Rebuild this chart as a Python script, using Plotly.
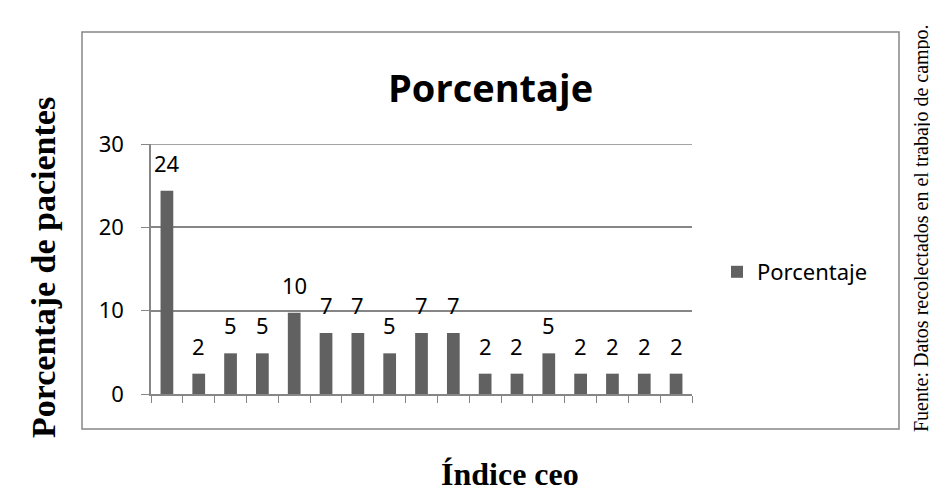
import plotly.graph_objects as go

# porcentaje de pacientes por valor del indice ceo (41 pacientes)
categorias = [str(i) for i in range(1, 18)]
porcentaje = [24.39, 2.44, 4.88, 4.88, 9.76, 7.32, 7.32, 4.88, 7.32, 7.32,
              2.44, 2.44, 4.88, 2.44, 2.44, 2.44, 2.44]
y_ticks = [0, 10, 20, 30]

OFF = 8                      # page body margin
W, H = 938 - OFF, 491 - OFF
L, R, T, B = 151, 692, 144, 394   # plot area, page px


def px(x):
    return (x - L) / (R - L)


def py(y):
    return (B - y) / (B - T)


gris = "#868686"
fig = go.Figure()
fig.add_trace(go.Bar(x=categorias, y=porcentaje, name="Porcentaje",
                     marker=dict(color="#616161", line=dict(width=0)),
                     width=0.4, showlegend=True))

# etiquetas de datos
for i, v in enumerate(porcentaje):
    fig.add_annotation(x=i, y=v, text=f"{v:.0f}", showarrow=False,
                       xanchor="center", yanchor="bottom", yshift=11,
                       font=dict(family="Noto Sans", size=22, color="#000"))

fig.update_layout(
    width=W, height=H,
    margin=dict(l=L - OFF, r=W - (R - OFF), t=T - OFF, b=H - (B - OFF)),
    plot_bgcolor="white", paper_bgcolor="white",
    bargap=0.6,
    legend=dict(x=px(717), y=py(272), xanchor="left", yanchor="middle",
                font=dict(family="Noto Sans", size=22, color="#000"),
                itemwidth=30),
    shapes=[dict(type="rect", xref="paper", yref="paper",
                 x0=px(82), x1=px(899), y0=py(429), y1=py(32),
                 line=dict(color=gris, width=1.5)),
            # linea de cuadricula superior (plotly la omite en el borde)
            dict(type="line", xref="paper", yref="y", x0=0, x1=1,
                 y0=y_ticks[-1], y1=y_ticks[-1],
                 line=dict(color=gris, width=1.5))],
)
fig.update_xaxes(type="category", showticklabels=False, ticks="outside",
                 tickson="boundaries", ticklen=7, tickcolor=gris,
                 showline=True, linecolor=gris, linewidth=1.5,
                 showgrid=False)
fig.update_yaxes(range=[0, 30], tickvals=y_ticks, ticks="outside", ticklen=8,
                 tickcolor=gris, showline=True, linecolor=gris, linewidth=1.5,
                 showgrid=True, gridcolor=gris, gridwidth=1.5, zeroline=False,
                 ticklabelstandoff=13,
                 tickfont=dict(family="Noto Sans", size=22, color="#000"))

# titulo y textos
txt = dict(xref="paper", yref="paper", showarrow=False,
           xanchor="center", yanchor="middle")
fig.add_annotation(text="<b>Porcentaje</b>", x=px(490), y=py(87),
                   font=dict(family="Open Sans", size=38, color="#000"), **txt)
fig.add_annotation(text="<b>Porcentaje de pacientes</b>", x=px(43), y=py(268),
                   textangle=-90,
                   font=dict(family="Liberation Serif", size=34, color="#000"), **txt)
fig.add_annotation(text="<b>Índice ceo</b>", x=px(510), y=py(474),
                   font=dict(family="Liberation Serif", size=32, color="#000"), **txt)
fig.add_annotation(text="Fuente: Datos recolectados en el trabajo de campo.",
                   x=px(921), y=py(228), textangle=-90,
                   font=dict(family="Liberation Serif", size=20, color="#000"), **txt)

fig.write_html("out.html")
